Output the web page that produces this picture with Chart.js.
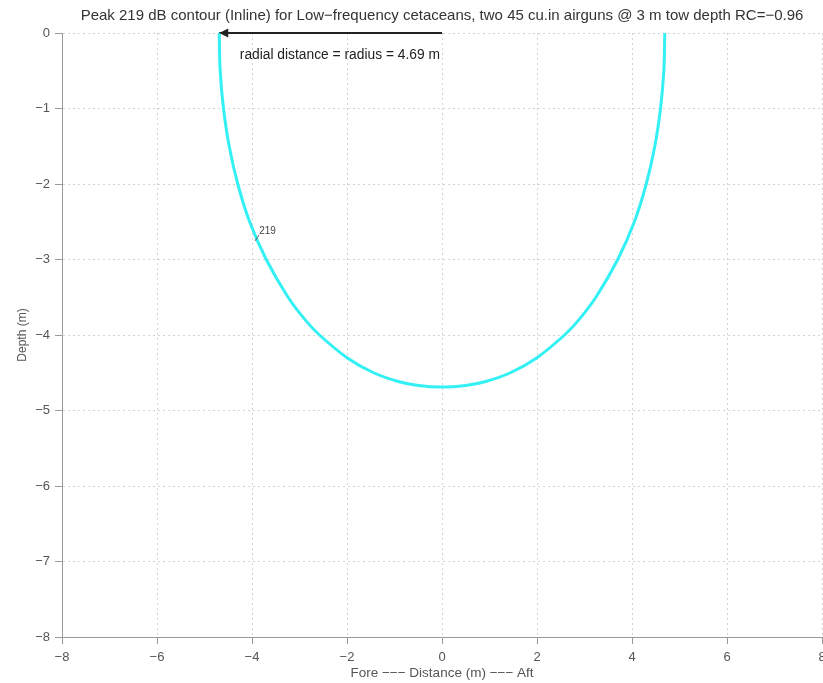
<!DOCTYPE html>
<html>
<head>
<meta charset="utf-8">
<script src="https://cdn.jsdelivr.net/npm/chart.js@4.4.1/dist/chart.umd.min.js"></script>
<style>
  html, body { margin: 0; padding: 0; background: #fff; }
  #wrap { width: 823px; height: 683px; }
</style>
</head>
<body>
<div id="wrap"><canvas id="contourChart" width="823" height="683"></canvas></div>
<script>
// Contour line (219 dB)
const contourX = [-4.69, -4.67, -4.6, -4.48, -4.3, -4.05, -3.7, -3.24, -2.88, -2.58, -2.0, -1.44, -0.9, -0.5, 0,
                  0.5, 0.9, 1.44, 2.0, 2.58, 2.88, 3.24, 3.7, 4.05, 4.3, 4.48, 4.6, 4.67, 4.69];
const contourY = [0, -0.5, -1, -1.5, -2, -2.5, -3, -3.5, -3.8, -4, -4.3, -4.5, -4.62, -4.67, -4.69,
                  -4.67, -4.62, -4.5, -4.3, -4, -3.8, -3.5, -3, -2.5, -2, -1.5, -1, -0.5, 0];

// Radius arrow from the source to the contour
const arrowX = [0, -4.69];
const arrowY = [0, 0];

const radiusLabel = "radial distance = radius = 4.69 m";
const contourLabel = "219";
const contourLabelPos = [-3.85, -2.62];
const radiusLabelPos = [-2.15, -0.3];

const titleText = "Peak 219 dB contour (Inline) for Low\u2212frequency cetaceans, two 45 cu.in airguns @ 3 m tow depth RC=\u22120.96";

const fontFamily = "'Liberation Sans', Arial, sans-serif";

function toPoints(xs, ys) {
    return xs.map((x, i) => ({ x: x, y: ys[i] }));
}

function minusSign(v) {
    return String(v).replace("-", "\u2212");
}

// draws title, arrow head and text labels
const annotations = {
    id: "annotations",
    afterDatasetsDraw(chart) {
        const ctx = chart.ctx;
        const xs = chart.scales.x;
        const ys = chart.scales.y;
        const area = chart.chartArea;
        ctx.save();

        // title centred on the plot
        ctx.fillStyle = "#333";
        ctx.font = "15px " + fontFamily;
        ctx.textAlign = "center";
        ctx.textBaseline = "middle";
        ctx.fillText(titleText, (area.left + area.right) / 2, 16);

        // arrow head
        const hx = xs.getPixelForValue(arrowX[1]);
        const hy = ys.getPixelForValue(arrowY[1]);
        ctx.fillStyle = "#222";
        ctx.beginPath();
        ctx.moveTo(hx, hy);
        ctx.lineTo(hx + 9, hy - 4.5);
        ctx.lineTo(hx + 9, hy + 4.5);
        ctx.closePath();
        ctx.fill();

        // radius label
        ctx.fillStyle = "#222";
        ctx.font = "13.8px " + fontFamily;
        ctx.fillText(radiusLabel, xs.getPixelForValue(radiusLabelPos[0]), ys.getPixelForValue(radiusLabelPos[1]));

        // contour label with small leader
        const lx = xs.getPixelForValue(contourLabelPos[0]);
        const ly = ys.getPixelForValue(contourLabelPos[1]);
        ctx.strokeStyle = "#555";
        ctx.lineWidth = 1;
        ctx.beginPath();
        ctx.moveTo(lx - 4, ly + 10);
        ctx.lineTo(lx, ly + 4);
        ctx.stroke();
        ctx.fillStyle = "#444";
        ctx.font = "10px " + fontFamily;
        ctx.textAlign = "left";
        ctx.fillText(contourLabel, lx, ly);

        ctx.restore();
    }
};

const ctx = document.getElementById("contourChart");
const contourChart = new Chart(ctx, {
    type: "scatter",
    data: {
        datasets: [
            {
                label: "219 dB",
                data: toPoints(contourX, contourY),
                showLine: true,
                borderColor: "#33f0f5",
                borderWidth: 3,
                pointRadius: 0,
                tension: 0.35,
                clip: false
            },
            {
                label: "radius",
                data: toPoints(arrowX, arrowY),
                showLine: true,
                borderColor: "#222",
                borderWidth: 2,
                pointRadius: 0,
                clip: false
            }
        ]
    },
    options: {
        responsive: false,
        animation: false,
        layout: { padding: { top: 33, right: 1, left: 0, bottom: 0 } },
        plugins: {
            legend: { display: false },
            tooltip: { enabled: false },
            title: { display: false }
        },
        scales: {
            x: {
                type: "linear",
                min: -8,
                max: 8,
                ticks: {
                    stepSize: 2,
                    color: "#555",
                    font: { size: 13, family: fontFamily },
                    padding: 6,
                    callback: v => minusSign(v)
                },
                grid: {
                    color: "#d4d4d4",
                    tickColor: "#999",
                    tickBorderDash: [],
                    tickLength: 7
                },
                border: { display: true, color: "#999", width: 1, dash: [2, 3] },
                title: {
                    display: true,
                    text: "Fore \u2212\u2212\u2212 Distance (m) \u2212\u2212\u2212 Aft",
                    color: "#555",
                    font: { size: 13.5, family: fontFamily },
                    padding: { top: 0, bottom: 2 }
                },
                afterFit: scale => {
                    scale.height = 46;
                    scale.paddingLeft = 0;
                    scale.paddingRight = 0;
                }
            },
            y: {
                type: "linear",
                min: -8,
                max: 0,
                ticks: {
                    stepSize: 1,
                    color: "#555",
                    font: { size: 13, family: fontFamily },
                    padding: 5,
                    callback: v => minusSign(v)
                },
                grid: {
                    color: "#d4d4d4",
                    tickColor: "#999",
                    tickBorderDash: [],
                    tickLength: 7
                },
                border: { display: true, color: "#999", width: 1, dash: [2, 3] },
                title: {
                    display: true,
                    text: "Depth (m)",
                    color: "#555",
                    font: { size: 12, family: fontFamily },
                    padding: { top: 15, bottom: 0 }
                },
                afterFit: scale => {
                    scale.width = 62;
                    scale.paddingTop = 0;
                    scale.paddingBottom = 0;
                }
            }
        }
    },
    plugins: [annotations]
});
</script>
</body>
</html>
